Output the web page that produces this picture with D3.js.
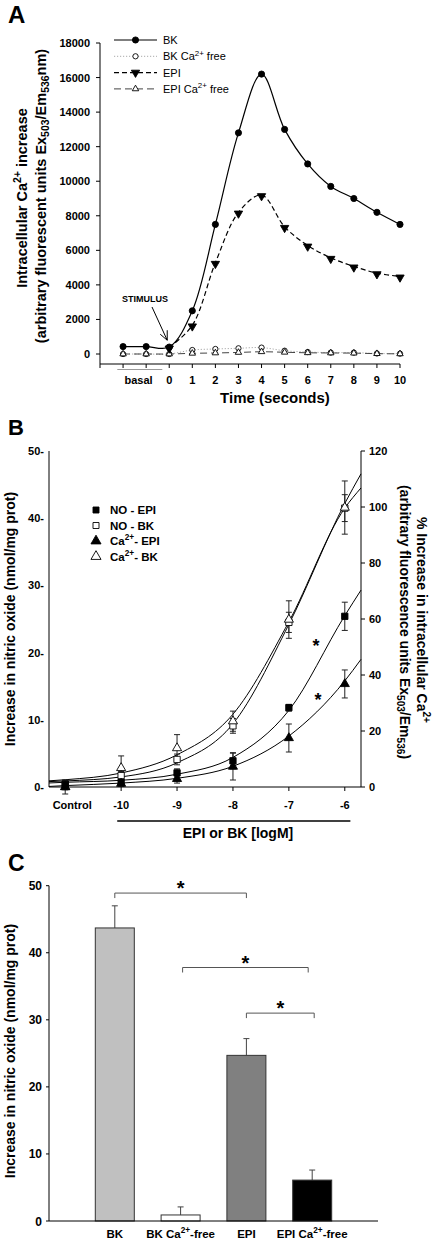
<!DOCTYPE html>
<html><head><meta charset="utf-8">
<script src="https://cdn.jsdelivr.net/npm/d3@7"></script>
<style>body{margin:0;background:#fff} svg{display:block} text{font-family:'Liberation Sans',Arial,Helvetica,sans-serif}</style>
</head><body><svg id="c" width="438" height="1240"></svg>
<script>
// ---------------- DATA ----------------
// Panel A
const timePoints = [-2, -1, 0, 1, 2, 3, 4, 5, 6, 7, 8, 9, 10];
const timeTickValues = [0, 1, 2, 3, 4, 5, 6, 7, 8, 9, 10];
const yTicksA = [0, 2000, 4000, 6000, 8000, 10000, 12000, 14000, 16000, 18000];
const bkA      = [430, 430, 400, 2500, 7500, 12800, 16200, 13000, 11000, 9700, 9000, 8200, 7500];
const bkFreeA  = [0, 0, 0, 230, 290, 330, 370, 190, 115, 80, 80, 30, 20];
const epiA     = [null, null, 380, 1660, 5280, 8190, 9200, 7360, 6280, 5570, 5070, 4680, 4490];
const epiFreeA = [0, 0, 0, 40, 60, 90, 130, 100, 70, 60, 50, 20, 10];

// Panel B
const doseX = [-11, -10, -9, -8, -7, -6];           // -11 = Control
const doseLabels = ["Control", "-10", "-9", "-8", "-7", "-6"];
const leftTicksB = [0, 10, 20, 30, 40, 50];
const rightTicksB = [0, 20, 40, 60, 80, 100, 120];
const noEpi    = [0.4, 0.7, 2.1, 3.9, 11.8, 25.4];
const noEpiErr = [0.5, 0.4, 0.6, 1.2, 0.5, 2.1];
const noBk     = [0.4, 1.7, 4.1, 9.1, 24.5, 41.5];
const noBkErr  = [0.6, 0.6, 0.8, 1.1, 1.5, 2.0];
const caEpi    = [0, 1.2, 2.9, 7.3, 17.5, 36.8];      // % (right axis)
const caEpiErr = [1.0, 1.0, 1.5, 4.8, 5.0, 5.0];
const caBk     = [0, 6.8, 13.9, 23.5, 59.8, 99.8];    // % (right axis)
const caBkErr  = [2.5, 4.3, 4.8, 3.6, 6.7, 9.5];
// fitted curves
const fitX      = [-11.29, -11, -10, -9, -8, -7, -6, -5.71];
const fitNoEpi  = [0.6, 0.7, 1.0, 1.9, 4.4, 11.4, 25.5, 29.3];
const fitNoBk   = [0.8, 0.9, 1.5, 3.6, 9.4, 24.2, 42.2, 46.6];
const fitCaEpi  = [0.2, 0.5, 1.4, 3.1, 7.4, 18.2, 37.9, 45.6];
const fitCaBk   = [2.2, 2.6, 5.0, 11.5, 26.0, 59.0, 99.6, 106.8];

// Panel C
const barCats = ["BK", "BK Ca2+-free", "EPI", "EPI Ca2+-free"];
const barVals = [43.7, 0.9, 24.7, 6.1];
const barErrs = [3.3, 1.2, 2.5, 1.5];
const barColors = ["#c0c0c0", "#ffffff", "#808080", "#000000"];
const yTicksC = [0, 10, 20, 30, 40, 50];
const brackets = [ {a: 0, b: 2, y: 48.9}, {a: 1, b: 3, y: 37.8}, {a: 2, b: 3, y: 31.0} ];

// ---------------- HELPERS ----------------
const svg = d3.select("#c");
function rich(g, parts, fs) {
  let shift = 0;
  parts.forEach(([t, k]) => {
    const sp = g.append("tspan").text(t);
    let target = 0;
    if (k === "sup") { target = -fs * 0.42; sp.attr("font-size", fs * 0.72); }
    else if (k === "sub") { target = fs * 0.22; sp.attr("font-size", fs * 0.72); }
    else sp.attr("font-size", fs);
    sp.attr("dy", target - shift);
    shift = target;
  });
  return g;
}
function label(x, y, txt, fs) {
  return svg.append("text").attr("x", x).attr("y", y).attr("font-size", fs)
    .attr("font-weight", "bold").text(txt);
}

// ---------------- PANEL A ----------------
const xA = d3.scaleLinear().domain([-3, 10]).range([100, 400]);
const yA = d3.scaleLinear().domain([0, 18000]).range([354, 43]);
const gA = svg.append("g");
label(8, 23, "A", 24);

gA.append("line").attr("x1", 100).attr("x2", 100).attr("y1", yA(18000)).attr("y2", 364).attr("stroke", "#000");
gA.append("line").attr("x1", 100).attr("x2", xA(10)).attr("y1", 364).attr("y2", 364).attr("stroke", "#000");
yTicksA.forEach(v => {
  gA.append("line").attr("x1", 96).attr("x2", 100).attr("y1", yA(v)).attr("y2", yA(v)).attr("stroke", "#000");
  gA.append("text").attr("x", 90).attr("y", yA(v) + 4).attr("text-anchor", "end")
    .attr("font-size", 11).attr("font-weight", "bold").text(v);
});
d3.range(-3, 11).forEach(v => {
  gA.append("line").attr("x1", xA(v)).attr("x2", xA(v)).attr("y1", 364).attr("y2", 368).attr("stroke", "#000");
});
timeTickValues.forEach(v => {
  gA.append("text").attr("x", xA(v)).attr("y", 383.5).attr("text-anchor", "middle")
    .attr("font-size", 11).attr("font-weight", "bold").text(v);
});
gA.append("text").attr("x", (xA(-2) + xA(-1)) / 2 + 4).attr("y", 383.5).attr("text-anchor", "middle")
  .attr("font-size", 11).attr("font-weight", "bold").text("basal");
gA.append("line").attr("x1", xA(-2.25)).attr("x2", xA(-0.3)).attr("y1", 369.5).attr("y2", 369.5)
  .attr("stroke", "#999").attr("stroke-width", 1);
gA.append("text").attr("x", 275).attr("y", 403).attr("text-anchor", "middle")
  .attr("font-size", 15).attr("font-weight", "bold").text("Time (seconds)");

rich(gA.append("text").attr("transform", "translate(27,198) rotate(-90)").attr("text-anchor", "middle").attr("font-weight", "bold"),
  [["Intracellular Ca", ""], ["2+", "sup"], [" increase", ""]], 14.5);
rich(gA.append("text").attr("transform", "translate(46,196) rotate(-90)").attr("text-anchor", "middle").attr("font-weight", "bold"),
  [["(arbitrary fluorescent units Ex", ""], ["503", "sub"], ["/Em", ""], ["536", "sub"], ["nm)", ""]], 14.5);

const seriesA = [
  { vals: bkFreeA,  stroke: "#aaa", dash: "1.2,1.8", width: 1, sym: d3.symbolCircle, size: 22, fill: "#fff", rot: 0, name: [["BK Ca", ""], ["2+", "sup"], [" free", ""]] },
  { vals: epiFreeA, stroke: "#444", dash: "7,4", width: 1, sym: d3.symbolTriangle, size: 18, fill: "#fff", rot: 0, name: [["EPI Ca", ""], ["2+", "sup"], [" free", ""]] },
  { vals: epiA,     stroke: "#000", dash: "5,3", width: 1.2, sym: d3.symbolTriangle, size: 30, fill: "#000", rot: 180, name: [["EPI", ""]] },
  { vals: bkA,      stroke: "#000", dash: null, width: 1.2, sym: d3.symbolCircle, size: 30, fill: "#000", rot: 0, name: [["BK", ""]] }
];
const lineA = d3.line().defined(d => d.v != null).x(d => xA(d.t)).y(d => yA(d.v)).curve(d3.curveCatmullRom.alpha(0.5));
seriesA.forEach(s => {
  const pts = timePoints.map((t, i) => ({ t, v: s.vals[i] })).filter(d => d.v != null);
  gA.append("path").attr("d", lineA(pts)).attr("fill", "none").attr("stroke", s.stroke)
    .attr("stroke-width", s.width).attr("stroke-dasharray", s.dash);
  pts.forEach(d => {
    gA.append("path").attr("d", d3.symbol(s.sym, s.size)())
      .attr("transform", `translate(${xA(d.t)},${yA(d.v) + (s.rot ? 1 : 0)}) rotate(${s.rot})`)
      .attr("fill", s.fill).attr("stroke", "#000").attr("stroke-width", 0.9);
  });
});
const legOrder = [3, 0, 2, 1];
legOrder.forEach((si, r) => {
  const s = seriesA[si], y = 40 + r * 16.3;
  gA.append("line").attr("x1", 114).attr("x2", 157).attr("y1", y).attr("y2", y)
    .attr("stroke", s.stroke).attr("stroke-width", s.width).attr("stroke-dasharray", s.dash);
  gA.append("path").attr("d", d3.symbol(s.sym, s.size)()).attr("transform", `translate(135.5,${y}) rotate(${s.rot})`)
    .attr("fill", s.fill).attr("stroke", "#000").attr("stroke-width", 0.9);
  rich(gA.append("text").attr("x", 163).attr("y", y + 4), s.name, 11);
});
gA.append("text").attr("x", 145).attr("y", 302).attr("text-anchor", "middle").attr("font-size", 9)
  .attr("font-weight", "bold").text("STIMULUS");
gA.append("line").attr("x1", 152).attr("y1", 307).attr("x2", xA(0) - 2).attr("y2", yA(450) - 6).attr("stroke", "#000");
gA.append("path").attr("d", `M${xA(0) - 9},${yA(450) - 12} L${xA(0) - 2},${yA(450) - 6} L${xA(0) - 2},${yA(450) - 16}`)
  .attr("fill", "none").attr("stroke", "#000");

// ---------------- PANEL B ----------------
const xB = d3.scaleLinear().domain([-11.29, -5.71]).range([49, 361]);
const yB = d3.scaleLinear().domain([0, 50]).range([787, 451]);
const yB2 = d3.scaleLinear().domain([0, 120]).range([787, 451]);
const gB = svg.append("g");
label(8, 435, "B", 22);
gB.append("line").attr("x1", 49).attr("x2", 49).attr("y1", 451).attr("y2", 787).attr("stroke", "#000");
gB.append("line").attr("x1", 361).attr("x2", 361).attr("y1", 451).attr("y2", 787).attr("stroke", "#000");
gB.append("line").attr("x1", 49).attr("x2", 361).attr("y1", 787).attr("y2", 787).attr("stroke", "#000");
leftTicksB.forEach(v => {
  gB.append("text").attr("x", 44).attr("y", yB(v) + 4).attr("text-anchor", "end").attr("font-size", 11)
    .attr("font-weight", "bold").text(v + "-");
});
rightTicksB.forEach(v => {
  gB.append("line").attr("x1", 361).attr("x2", 365).attr("y1", yB2(v)).attr("y2", yB2(v)).attr("stroke", "#000");
  gB.append("text").attr("x", 369).attr("y", yB2(v) + 4).attr("font-size", 11).attr("font-weight", "bold").text(v);
});
doseX.forEach((d, i) => {
  if (i > 0) gB.append("line").attr("x1", xB(d)).attr("x2", xB(d)).attr("y1", 787).attr("y2", 791).attr("stroke", "#000");
  gB.append("text").attr("x", xB(d) + (i === 0 ? 7 : 0)).attr("y", 809).attr("text-anchor", "middle")
    .attr("font-size", 11).attr("font-weight", "bold").text(doseLabels[i]);
});
gB.append("line").attr("x1", xB(-10.07)).attr("x2", xB(-5.9)).attr("y1", 821).attr("y2", 821).attr("stroke", "#000").attr("stroke-width", 1.6);
gB.append("text").attr("x", 238).attr("y", 838).attr("text-anchor", "middle").attr("font-size", 14)
  .attr("font-weight", "bold").text("EPI or BK [logM]");
gB.append("text").attr("transform", "translate(15,619) rotate(-90)").attr("text-anchor", "middle")
  .attr("font-size", 14).attr("font-weight", "bold").text("Increase in nitric oxide (nmol/mg prot)");
rich(gB.append("text").attr("transform", "translate(417,620) rotate(90)").attr("text-anchor", "middle").attr("font-weight", "bold"),
  [["% Increase in intracellular Ca", ""], ["2+", "sup"]], 14);
rich(gB.append("text").attr("transform", "translate(400,622) rotate(90)").attr("text-anchor", "middle").attr("font-weight", "bold"),
  [["(arbitrary fluorescence units Ex", ""], ["503", "sub"], ["/Em", ""], ["536", "sub"], [")", ""]], 14);

const lineB = d3.line().x(d => xB(d.x)).y(d => d.y).curve(d3.curveMonotoneX);
const fits = [ {v: fitNoEpi, s: yB}, {v: fitNoBk, s: yB}, {v: fitCaEpi, s: yB2}, {v: fitCaBk, s: yB2} ];
fits.forEach(f => {
  gB.append("path").attr("d", lineB(fitX.map((x, i) => ({ x, y: f.s(f.v[i]) }))))
    .attr("fill", "none").attr("stroke", "#000").attr("stroke-width", 1);
});
const seriesB = [
  { vals: noBk, errs: noBkErr, s: yB, sym: d3.symbolSquare, size: 40, fill: "#fff", name: [["NO - BK", ""]] },
  { vals: caBk, errs: caBkErr, s: yB2, sym: d3.symbolTriangle, size: 36, fill: "#fff", name: [["Ca", ""], ["2+", "sup"], ["- BK", ""]] },
  { vals: noEpi, errs: noEpiErr, s: yB, sym: d3.symbolSquare, size: 40, fill: "#000", name: [["NO - EPI", ""]] },
  { vals: caEpi, errs: caEpiErr, s: yB2, sym: d3.symbolTriangle, size: 36, fill: "#000", name: [["Ca", ""], ["2+", "sup"], ["- EPI", ""]] }
];
seriesB.forEach(sr => {
  doseX.forEach((d, i) => {
    const x = xB(d), y0 = sr.s(sr.vals[i] - sr.errs[i]), y1 = sr.s(sr.vals[i] + sr.errs[i]);
    gB.append("line").attr("x1", x).attr("x2", x).attr("y1", y0).attr("y2", y1).attr("stroke", "#222");
    [y0, y1].forEach(yy => gB.append("line").attr("x1", x - 3).attr("x2", x + 3).attr("y1", yy).attr("y2", yy).attr("stroke", "#222"));
  });
});
seriesB.forEach(sr => {
  doseX.forEach((d, i) => {
    gB.append("path").attr("d", d3.symbol(sr.sym, sr.size)())
      .attr("transform", `translate(${xB(d)},${sr.s(sr.vals[i])})`)
      .attr("fill", sr.fill).attr("stroke", "#000").attr("stroke-width", 0.9);
  });
});
[[316, 652], [318, 706]].forEach(([x, y]) => {
  gB.append("text").attr("x", x).attr("y", y).attr("text-anchor", "middle").attr("font-size", 18)
    .attr("font-weight", "bold").text("*");
});
const legB = [2, 0, 3, 1];
legB.forEach((si, r) => {
  const sr = seriesB[si], y = 513 + r * 15.5;
  gB.append("path").attr("d", d3.symbol(sr.sym, sr.sym === d3.symbolSquare ? 36 : 44)())
    .attr("transform", `translate(96,${y - 3})`).attr("fill", sr.fill).attr("stroke", "#000").attr("stroke-width", 0.9);
  rich(gB.append("text").attr("x", 110).attr("y", y + 1).attr("font-weight", "bold"), sr.name, 11.5);
});

// ---------------- PANEL C ----------------
const xC = d3.scalePoint().domain(barCats).range([49, 378]).padding(1);
const yC = d3.scaleLinear().domain([0, 50]).range([1221, 885.7]);
const gC = svg.append("g");
label(8, 871, "C", 23);
const bw = 39;
barCats.forEach((c, i) => {
  const x = xC(c);
  gC.append("line").attr("x1", x).attr("x2", x).attr("y1", yC(barVals[i])).attr("y2", yC(barVals[i] + barErrs[i])).attr("stroke", "#444");
  gC.append("line").attr("x1", x - 3).attr("x2", x + 3).attr("y1", yC(barVals[i] + barErrs[i])).attr("y2", yC(barVals[i] + barErrs[i])).attr("stroke", "#444");
  gC.append("rect").attr("x", x - bw / 2).attr("y", yC(barVals[i])).attr("width", bw).attr("height", yC(0) - yC(barVals[i]))
    .attr("fill", barColors[i]).attr("stroke", "#333").attr("stroke-width", 1);
});
gC.append("line").attr("x1", 49).attr("x2", 49).attr("y1", yC(50)).attr("y2", yC(0)).attr("stroke", "#000");
gC.append("line").attr("x1", 49).attr("x2", 378).attr("y1", yC(0)).attr("y2", yC(0)).attr("stroke", "#000");
yTicksC.forEach(v => {
  gC.append("line").attr("x1", 46).attr("x2", 49).attr("y1", yC(v)).attr("y2", yC(v)).attr("stroke", "#000");
  gC.append("text").attr("x", 42).attr("y", yC(v) + 4.5).attr("text-anchor", "end").attr("font-size", 12)
    .attr("font-weight", "bold").text(v);
});
barCats.forEach(c => {
  const parts = c.includes("Ca2+") ? [[c.split("Ca2+")[0] + "Ca", ""], ["2+", "sup"], [c.split("Ca2+")[1], ""]] : [[c, ""]];
  rich(gC.append("text").attr("x", xC(c)).attr("y", 1238).attr("text-anchor", "middle").attr("font-weight", "bold"), parts, 11.5);
});
brackets.forEach((b, k) => {
  const xa = xC(barCats[b.a]) + (k === 1 ? 2 : 0), xb = xC(barCats[b.b]) - (k === 1 ? 4 : 0) + (k === 2 ? 2 : 0);
  const y = yC(b.y);
  gC.append("path").attr("d", `M${xa},${y + 5} L${xa},${y} L${xb},${y} L${xb},${y + 5}`)
    .attr("fill", "none").attr("stroke", "#555").attr("stroke-width", 1);
  gC.append("text").attr("x", (xa + xb) / 2).attr("y", y + 2).attr("text-anchor", "middle")
    .attr("font-size", 20).attr("font-weight", "bold").text("*");
});
gC.append("text").attr("transform", "translate(15,1051) rotate(-90)").attr("text-anchor", "middle")
  .attr("font-size", 14).attr("font-weight", "bold").text("Increase in nitric oxide (nmol/mg prot)");
</script></body></html>
